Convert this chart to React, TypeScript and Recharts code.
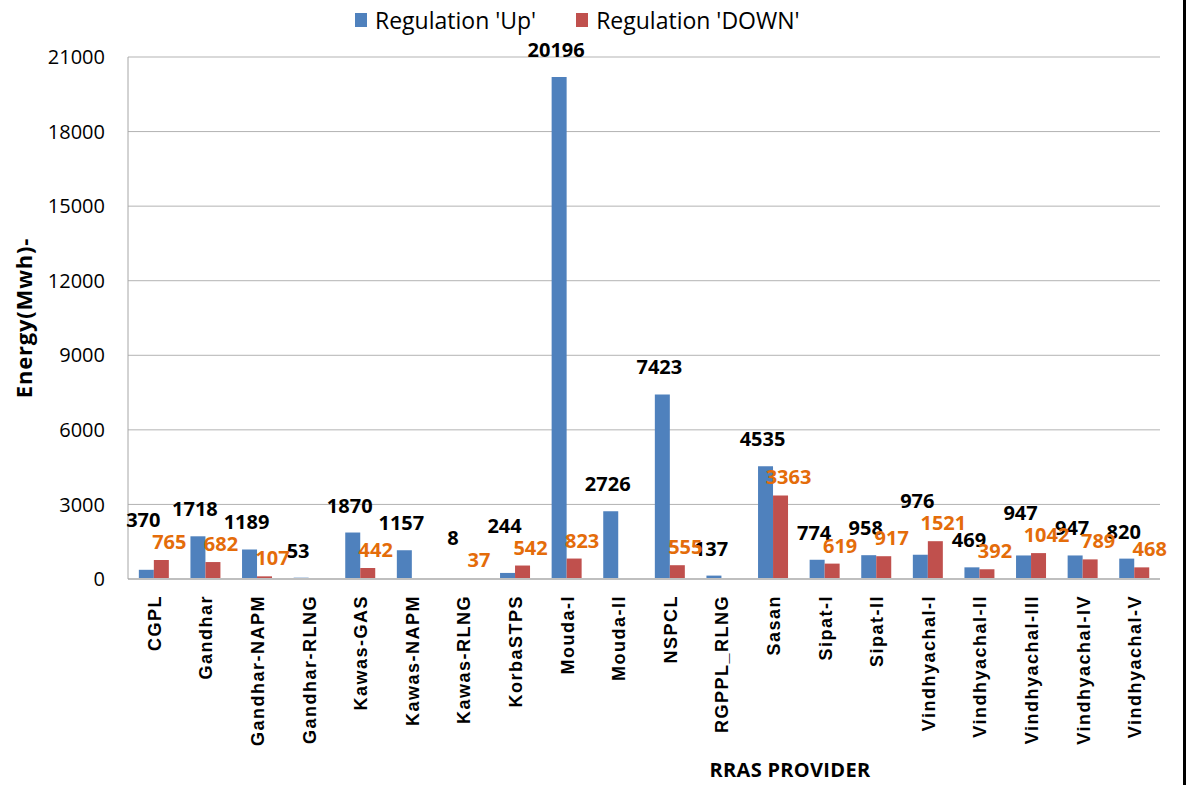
import React from 'react';
import { BarChart, Bar, XAxis, YAxis, CartesianGrid, LabelList } from 'recharts';

const providers = ['CGPL', 'Gandhar', 'Gandhar-NAPM', 'Gandhar-RLNG', 'Kawas-GAS', 'Kawas-NAPM', 'Kawas-RLNG', 'KorbaSTPS', 'Mouda-I', 'Mouda-II', 'NSPCL', 'RGPPL_RLNG', 'Sasan', 'Sipat-I', 'Sipat-II', 'Vindhyachal-I', 'Vindhyachal-II', 'Vindhyachal-III', 'Vindhyachal-IV', 'Vindhyachal-V'];
const regulationUp = [370, 1718, 1189, 53, 1870, 1157, 8, 244, 20196, 2726, 7423, 137, 4535, 774, 958, 976, 469, 947, 947, 820];
const regulationDown: (number | null)[] = [765, 682, 107, null, 442, null, 37, 542, 823, null, 555, null, 3363, 619, 917, 1521, 392, 1042, 789, 468];
const yTicks = [0, 3000, 6000, 9000, 12000, 15000, 18000, 21000];

const data = providers.map((name, i) => ({ name, up: regulationUp[i], down: regulationDown[i] }));

const FONT = "'Open Sans', 'Liberation Sans', sans-serif";
const BLUE = '#4F81BD';
const RED = '#C0504D';
const ORANGE = '#E46C0A';
const DOWN_LABEL_GAP = 11;

const XTick = (props: any) => {
  const { x, y, payload } = props;
  const ax = x + 7;
  const ay = y + 16;
  return (
    <text x={ax} y={ay} transform={`rotate(-90 ${ax} ${ay})`} textAnchor="end" fontFamily="'Liberation Sans', Arial, sans-serif" fontWeight={700} fontSize={18} letterSpacing={1.5} fill="#000">
      {payload.value}
    </text>
  );
};

const YTitle = (props: any) => {
  const vb = props.viewBox || { y: 57, height: 522 };
  const cx = 23;
  const cy = vb.y + vb.height / 2;
  return (
    <text x={cx} y={cy} transform={`rotate(-90 ${cx} ${cy})`} textAnchor="middle" dominantBaseline="central" fontFamily={FONT} fontWeight={700} fontSize={22} letterSpacing={0.8} fill="#000">
      Energy(Mwh)-
    </text>
  );
};

const XTitle = (props: any) => {
  const vb = props.viewBox || { x: 128, width: 1032, y: 579 };
  const cx = vb.x + vb.width / 2 + 146;
  return (
    <text x={cx} y={777} textAnchor="middle" fontFamily={FONT} fontWeight={700} fontSize={20} letterSpacing={0.3} fill="#000">
      RRAS PROVIDER
    </text>
  );
};

// Up labels: above their bar, or stacked above the DOWN label when the DOWN bar is taller.
const UpLabel = (props: any) => {
  const { x, y, width, height, value, index } = props;
  if (value === null || value === undefined) return null;
  const base = y + height;
  const perUnit = value > 0 ? height / value : 0;
  const down = data[index] ? data[index].down : null;
  const downTop = down ? base - down * perUnit : base;
  const ly = down && downTop < y ? downTop - DOWN_LABEL_GAP - 22 : y - 20;
  return (
    <text x={x + width / 2 - 3} y={ly} textAnchor="middle" fontFamily={FONT} fontWeight={700} fontSize={20} fill="#000">
      {value}
    </text>
  );
};

const DownLabel = (props: any) => {
  const { x, y, width, value } = props;
  if (value === null || value === undefined) return null;
  return (
    <text x={x + width / 2 + 8} y={y - DOWN_LABEL_GAP} textAnchor="middle" fontFamily={FONT} fontWeight={700} fontSize={20} fill={ORANGE}>
      {value}
    </text>
  );
};

export default function App() {
  return (
    <div style={{ position: 'absolute', left: 0, top: 0, width: 1189, height: 785, background: '#fff', overflow: 'hidden' }}>
      <div style={{ position: 'absolute', left: 355, top: 4, height: 32, display: 'flex', alignItems: 'center', fontFamily: FONT, fontSize: 23, color: '#000', whiteSpace: 'nowrap' }}>
        <span style={{ display: 'inline-block', width: 12, height: 14, background: BLUE, marginRight: 8 }} />
        <span style={{ marginRight: 40 }}>Regulation 'Up'</span>
        <span style={{ display: 'inline-block', width: 12, height: 14, background: RED, marginRight: 8 }} />
        <span>Regulation 'DOWN'</span>
      </div>
      <BarChart
        width={1189}
        height={785}
        data={data}
        margin={{ top: 57, right: 29, bottom: 0, left: 20 }}
        barCategoryGap="21%"
        barGap={0}
      >
        <CartesianGrid horizontal vertical={false} stroke="#B3B3B3" strokeWidth={1} />
        <XAxis
          dataKey="name"
          interval={0}
          tick={<XTick />}
          tickLine={false}
          tickSize={0}
          tickMargin={0}
          height={206}
          axisLine={{ stroke: '#BFBFBF', strokeWidth: 2 }}
          label={<XTitle />}
        />
        <YAxis
          domain={[0, 21000]}
          ticks={yTicks}
          width={108}
          tickLine={false}
          tickSize={0}
          tickMargin={23}
          axisLine={{ stroke: '#A6A6A6' }}
          tick={{ fontFamily: FONT, fontSize: 20, fill: '#000' }}
          label={<YTitle />}
        />
        <Bar dataKey="up" fill={BLUE} isAnimationActive={false}>
          <LabelList dataKey="up" content={<UpLabel />} />
        </Bar>
        <Bar dataKey="down" fill={RED} isAnimationActive={false}>
          <LabelList dataKey="down" content={<DownLabel />} />
        </Bar>
      </BarChart>
      <div style={{ position: 'absolute', left: 1183, top: 0, width: 3, height: 785, background: '#000' }} />
    </div>
  );
}
